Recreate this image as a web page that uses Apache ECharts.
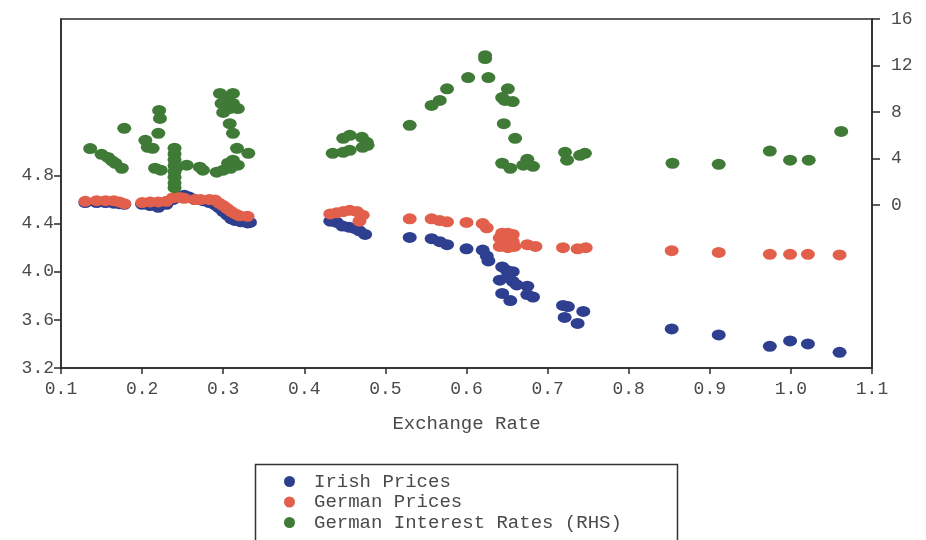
<!DOCTYPE html>
<html>
<head>
<meta charset="utf-8">
<script src="https://cdn.jsdelivr.net/npm/echarts@6/dist/echarts.min.js"></script>
<style>html,body{margin:0;padding:0;background:#fff;}#c{width:926px;height:540px;}</style>
</head>
<body>
<div id="c"></div>
<script>
// Tick labels
const xTicks = [0.1,0.2,0.3,0.4,0.5,0.6,0.7,0.8,0.9,1.0,1.1];
const leftTicks = [3.2,3.6,4.0,4.4,4.8];
const rightTicks = [0,4,8,12,16];
const seriesNames = ['Irish Prices','German Prices','German Interest Rates (RHS)'];

// [exchange rate, value]
const irishPrices = [
[0.130,4.575],[0.144,4.575],[0.155,4.575],[0.165,4.57],[0.172,4.565],[0.178,4.56],
[0.200,4.56],[0.210,4.55],[0.220,4.535],[0.230,4.56],
[0.238,4.60],[0.245,4.625],[0.252,4.635],[0.258,4.62],[0.265,4.60],[0.275,4.59],
[0.283,4.575],[0.290,4.555],[0.295,4.53],[0.300,4.50],[0.305,4.47],[0.310,4.44],[0.315,4.425],[0.322,4.415],[0.330,4.405],[0.333,4.41],
[0.432,4.42],[0.440,4.41],[0.447,4.38],[0.455,4.37],[0.462,4.36],[0.468,4.34],[0.475,4.31],
[0.530,4.285],[0.557,4.275],[0.567,4.25],[0.576,4.225],[0.600,4.19],[0.620,4.18],[0.625,4.13],[0.627,4.09],
[0.644,4.04],[0.650,4.01],[0.657,4.00],[0.641,3.93],[0.651,3.96],[0.657,3.92],[0.662,3.89],[0.644,3.82],[0.654,3.76],
[0.675,3.88],[0.682,3.79],[0.675,3.81],
[0.719,3.72],[0.725,3.71],[0.721,3.62],[0.744,3.67],[0.737,3.57],
[0.853,3.525],[0.911,3.475],[0.974,3.38],[0.999,3.425],[1.021,3.40],[1.060,3.33]
];
const germanPrices = [
[0.130,4.585],[0.144,4.59],[0.155,4.59],[0.165,4.59],[0.172,4.58],[0.178,4.565],
[0.200,4.575],[0.210,4.58],[0.220,4.58],[0.230,4.585],
[0.238,4.615],[0.242,4.62],[0.248,4.615],[0.252,4.61],
[0.265,4.60],[0.272,4.60],
[0.283,4.60],[0.290,4.595],[0.295,4.57],[0.300,4.55],[0.305,4.525],[0.310,4.50],[0.315,4.48],[0.320,4.465],[0.330,4.46],
[0.432,4.48],[0.440,4.49],[0.448,4.50],[0.456,4.51],[0.465,4.50],[0.472,4.47],[0.468,4.42],
[0.530,4.44],[0.557,4.44],[0.567,4.425],[0.576,4.415],[0.600,4.41],[0.620,4.40],[0.625,4.365],
[0.644,4.32],[0.651,4.32],[0.657,4.31],[0.641,4.28],[0.650,4.27],[0.657,4.25],[0.641,4.21],[0.651,4.20],[0.659,4.21],
[0.675,4.225],[0.685,4.21],
[0.719,4.20],[0.737,4.19],[0.747,4.20],
[0.853,4.175],[0.911,4.16],[0.974,4.145],[0.999,4.145],[1.021,4.145],[1.060,4.14]
];
const germanRates = [
[0.136,4.86],[0.150,4.37],[0.158,4.1],[0.163,3.8],[0.167,3.6],[0.175,3.17],[0.178,6.6],
[0.204,5.57],[0.207,4.97],[0.213,4.88],[0.216,3.17],[0.221,8.14],[0.222,7.45],[0.220,6.17],[0.223,3.0],
[0.240,4.9],[0.240,4.4],[0.240,3.9],[0.240,3.4],[0.240,2.9],[0.240,2.4],[0.240,1.9],[0.240,1.5],
[0.243,3.26],[0.255,3.43],[0.271,3.26],[0.275,3.0],[0.292,2.83],[0.300,3.0],[0.306,3.6],[0.312,3.86],[0.318,3.43],[0.309,3.17],
[0.317,4.88],[0.331,4.45],[0.308,7.0],[0.312,6.17],
[0.296,9.6],[0.312,9.6],[0.305,9.17],[0.298,8.74],[0.312,8.74],[0.308,8.3],[0.318,8.3],[0.300,7.97],
[0.435,4.45],[0.448,4.54],[0.456,4.71],[0.448,5.74],[0.456,6.0],[0.471,5.83],[0.477,5.4],[0.478,5.14],[0.472,4.97],
[0.530,6.86],[0.557,8.57],[0.567,9.0],[0.576,10.0],[0.602,10.97],[0.623,12.85],[0.623,12.6],[0.627,10.97],
[0.651,10.0],[0.644,9.25],[0.6475,9.0],[0.657,8.9],[0.646,7.0],[0.66,5.74],[0.644,3.6],[0.654,3.17],
[0.675,3.94],[0.670,3.43],[0.682,3.34],
[0.7215,4.54],[0.724,3.86],[0.740,4.28],[0.746,4.45],
[0.854,3.6],[0.911,3.51],[0.974,4.65],[0.999,3.86],[1.022,3.86],[1.062,6.34]
];

const FONT = 'Liberation Mono';
const TXT = '#4a4a4a';
const AX = '#2a2a2a';
const legendTops = [467, 487.5, 508];
const chart = echarts.init(document.getElementById('c'), null, {renderer:'canvas'});
chart.setOption({
  backgroundColor:'#ffffff',
  animation:false,
  grid:{left:61, right:54, top:19, bottom:172, show:true, borderColor:AX, borderWidth:1.5, backgroundColor:'transparent'},
  xAxis:{
    type:'value', min:0.1, max:1.1, interval:0.1,
    name:'Exchange Rate', nameLocation:'middle', nameGap:46,
    nameTextStyle:{fontFamily:FONT, fontSize:19, color:TXT},
    axisLine:{show:true, onZero:false, lineStyle:{color:AX, width:1.5}},
    axisTick:{show:true, inside:false, length:6, customValues:xTicks, lineStyle:{color:AX, width:1.5}},
    axisLabel:{customValues:xTicks, margin:12, fontFamily:FONT, fontSize:18, color:TXT, formatter:v=>v.toFixed(1)},
    splitLine:{show:false}
  },
  yAxis:[
    {type:'value', min:3.2, max:6.1, position:'left',
     axisLine:{show:true, onZero:false, lineStyle:{color:AX, width:1.5}},
     axisTick:{show:true, length:7, customValues:leftTicks, lineStyle:{color:AX, width:1.5}},
     axisLabel:{customValues:leftTicks, margin:7, fontFamily:FONT, fontSize:18, color:TXT, formatter:v=>v.toFixed(1)},
     splitLine:{show:false}},
    {type:'value', min:-14, max:16, position:'right',
     axisLine:{show:true, onZero:false, lineStyle:{color:AX, width:1.5}},
     axisTick:{show:true, length:8, customValues:rightTicks, lineStyle:{color:AX, width:1.5}},
     axisLabel:{customValues:rightTicks, margin:19, fontFamily:FONT, fontSize:18, color:TXT, formatter:v=>String(v)},
     splitLine:{show:false}}
  ],
  legend: seriesNames.map((n,i)=>({
    orient:'vertical', left:279, top:legendTops[i],
    icon:'circle', itemWidth:11, itemHeight:11,
    data:[n],
    textStyle:{fontFamily:FONT, fontSize:19, color:TXT, lineHeight:18, padding:[0,0,0,14]}
  })),
  graphic:[{type:'rect', shape:{x:255.5, y:464.5, width:422, height:90}, style:{fill:'none', stroke:'#333', lineWidth:1.5}, silent:true, z:100}],
  series:[
    {name:seriesNames[0], type:'scatter', yAxisIndex:0, data:irishPrices, symbol:'circle', symbolSize:[14,11], itemStyle:{color:'#2f3f8f', opacity:1}},
    {name:seriesNames[1], type:'scatter', yAxisIndex:0, data:germanPrices, symbol:'circle', symbolSize:[14,11], itemStyle:{color:'#e2604b', opacity:1}},
    {name:seriesNames[2], type:'scatter', yAxisIndex:1, data:germanRates, symbol:'circle', symbolSize:[14,11], itemStyle:{color:'#3f7b37', opacity:1}}
  ]
});
</script>
</body>
</html>
